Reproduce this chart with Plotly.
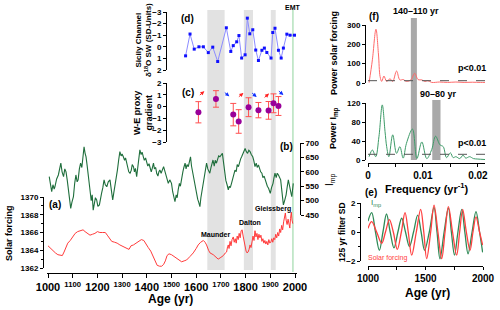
import plotly.graph_objects as go

# ---------------- data ----------------
solar_years = [1000,1010,1020,1030,1040,1050,1058,1065,1072,1080,1090,1100,1110,1120,1130,1142,1150,1160,1170,1180,1190,1200,1210,1220,1232,1240,1250,1258,1270,1280,1291,1300,1310,1320,1328,1336,1346,1356,1366,1378,1388,1396,1406,1416,1427,1435,1442,1452,1460,1468,1475,1482,1490,1500,1510,1521,1531,1541,1551,1561,1575,1588,1600,1608,1618,1629,1636,1642,1650,1656,1669,1680,1689,1700,1710,1718,1723,1727,1730,1733,1737,1741,1745,1750,1754,1758,1762,1766,1770,1774,1778,1782,1786,1790,1794,1798,1802,1806,1810,1814,1818,1822,1826,1830,1834,1838,1842,1846,1850,1854,1858,1862,1866,1870,1874,1878,1882,1886,1890,1894,1898,1902,1906,1910,1914,1918,1922,1926,1930,1934,1938,1942,1946,1950,1954,1958,1961,1964,1968,1972,1976,1979,1982,1985,1988,1991]
solar_vals = [1364.5,1364.2,1363.9,1363.7,1363.5,1363.4,1363.4,1363.8,1364.3,1364.8,1365.1,1365.5,1365.9,1366.1,1366.2,1366.3,1366.1,1365.9,1365.7,1365.8,1365.9,1366.1,1366.0,1366.0,1366.0,1365.7,1365.3,1365.0,1364.9,1364.8,1364.6,1364.5,1364.3,1364.2,1364.1,1364.5,1364.6,1364.8,1365.0,1365.2,1365.1,1364.8,1364.3,1363.9,1363.3,1362.7,1362.3,1362.2,1362.2,1362.4,1362.8,1363.4,1363.6,1363.5,1363.3,1363.1,1362.9,1362.7,1362.8,1362.9,1363.3,1363.7,1364.2,1364.6,1364.9,1365.1,1364.9,1364.6,1364.0,1363.7,1363.5,1363.2,1363.0,1363.2,1363.4,1363.7,1363.8,1364.4,1364.6,1364.2,1365.0,1364.5,1365.2,1365.5,1364.9,1365.3,1364.8,1365.6,1365.2,1365.9,1365.4,1366.2,1366.3,1365.6,1365.0,1364.3,1363.9,1363.7,1363.8,1364.1,1364.6,1364.3,1365.2,1365.6,1365.1,1366.2,1365.5,1365.9,1365.2,1365.8,1365.4,1365.7,1365.0,1365.3,1364.8,1365.1,1364.7,1365.0,1364.6,1365.2,1364.8,1364.9,1365.3,1364.9,1365.4,1365.2,1365.8,1365.4,1366.0,1365.6,1366.4,1366.0,1366.8,1366.3,1367.2,1367.9,1368.2,1367.4,1366.9,1367.5,1366.8,1366.5,1367.6,1368.3,1367.4,1367.0]

imp_years = [1005,1010,1015,1020,1025,1028,1035,1042,1047,1052,1057,1063,1068,1073,1078,1082,1087,1092,1097,1103,1108,1113,1118,1122,1127,1132,1137,1142,1146,1150,1154,1158,1163,1167,1170,1175,1179,1183,1188,1192,1197,1202,1208,1212,1217,1222,1227,1232,1238,1244,1251,1256,1262,1266,1271,1276,1281,1286,1291,1296,1300,1305,1310,1314,1318,1323,1327,1332,1337,1341,1346,1350,1354,1359,1363,1368,1372,1377,1381,1386,1390,1395,1400,1404,1409,1413,1418,1422,1427,1431,1436,1440,1445,1449,1453,1458,1463,1468,1474,1480,1487,1493,1500,1505,1510,1514,1519,1523,1527,1532,1536,1541,1546,1550,1555,1559,1563,1568,1572,1577,1581,1585,1588,1593,1597,1601,1606,1610,1615,1619,1624,1628,1633,1637,1642,1647,1651,1655,1660,1664,1668,1673,1677,1682,1687,1691,1696,1701,1706,1711,1716,1720,1725,1730,1734,1738,1743,1748,1752,1757,1762,1766,1771,1775,1780,1784,1789,1793,1798,1803,1808,1813,1818,1823,1829,1833,1838,1843,1847,1852,1857,1861,1866,1870,1875,1879,1884,1888,1893,1897,1900,1905,1911,1915,1919,1924,1928,1933,1938,1942,1946,1950,1953,1958,1964,1968,1973,1977,1980,1984,1987,1990,1993]
imp_vals = [583,560,531,555,540,548,575,589,610,630,600,583,610,600,570,537,505,473,495,514,560,589,565,572,610,630,615,660,687,665,652,625,595,560,537,500,520,467,490,510,502,480,485,510,526,545,572,555,548,565,572,540,502,525,548,575,606,640,670,655,662,652,640,648,630,615,600,595,605,625,618,600,612,583,620,650,676,660,668,652,640,648,635,620,628,618,600,612,630,610,615,595,585,600,606,595,610,618,600,585,560,572,560,530,515,496,520,510,537,560,550,583,600,615,630,610,625,618,640,652,620,600,583,560,545,525,505,495,479,510,535,560,590,610,630,610,600,595,615,630,641,620,640,630,645,655,652,660,664,630,595,570,555,537,550,545,560,580,590,606,600,625,618,635,645,652,665,675,681,670,664,675,670,660,652,640,618,630,615,624,610,600,595,580,585,572,560,550,543,530,525,545,560,580,595,580,595,589,580,572,540,505,485,500,520,545,572,555,537,525,514,535,560]

grad_years = [1609,1680,1750,1772,1812,1852,1893,1913,1933]
grad_vals = [-0.48,0.65,-0.68,-1.26,-0.05,-0.3,-0.32,0.28,0.05]
grad_err = [0.9,0.7,0.95,1.0,0.8,0.65,0.75,0.8,0.8]

d18o_years = [1557,1575,1592,1611,1629,1649,1667,1687,1722,1740,1750,1764,1773,1784,1798,1807,1817,1829,1841,1852,1866,1876,1886,1903,1910,1919,1933,1944,1953,1967,1980,1998]
d18o_vals = [0.78,-1.1,0.2,0.0,0.0,0.5,0.03,1.27,-1.64,0.4,-0.1,-0.43,-0.97,0.97,0.69,-2.47,-1.12,-1.47,0.28,1.18,0.3,0.11,0.49,0.97,-1.23,-1.6,0.3,0.97,0.11,-1.09,-1.0,-1.0]

freq_solar = [0.0002,0.0008,0.00145,0.0019,0.0022,0.0025,0.0029,0.0034,0.004,0.0045,0.0052,0.0058,0.0064,0.007,0.0078,0.0085,0.0091,0.0098,0.0104,0.0109,0.0116,0.013,0.0145,0.016,0.0175,0.019,0.0205,0.0213]
pow_solar = [2,120,278,150,33,8,36,8,22,8,62,16,18,8,16,50,18,16,8,12,3,5,3,5,3,4,3,3]

freq_imp = [0.0002,0.0008,0.0014,0.002,0.0026,0.0031,0.0034,0.0038,0.0045,0.0052,0.0058,0.0064,0.007,0.0081,0.0089,0.0098,0.0107,0.0116,0.0123,0.0131,0.0137,0.0143,0.015,0.0155,0.016,0.0167,0.0173,0.0178,0.0185,0.0192,0.02,0.0213]
pow_imp = [7,21,7,50,116,60,28,7,53,14,28,4,35,65,3,38,3,22,50,32,28,5,15,5,7,3,10,4,7,3,2,1]

filt_years_red = [1000,1032,1075,1119,1152,1186,1220,1255,1290,1322,1350,1380,1420,1458,1485,1510,1545,1574,1608,1641,1670,1699,1735,1771,1797,1823,1855,1887,1913,1939,1970,1997]
filt_red = [0.25,0.71,0.0,-0.78,0.0,0.85,0.0,-1.2,0.0,1.33,0.0,-1.6,0.0,1.56,0.0,-1.84,0.0,1.86,0.0,-1.84,0.0,1.75,0.0,-1.6,0.0,1.56,0.0,-1.26,0.0,1.05,0.0,-0.9]
filt_years_grn = [1000,1032,1065,1099,1130,1161,1193,1226,1260,1293,1326,1360,1396,1432,1462,1492,1533,1574,1600,1626,1662,1699,1725,1752,1782,1815,1842,1870,1905,1939,1970,1997]
filt_grn = [0.75,1.33,0.0,-1.26,0.0,1.24,0.0,-1.1,0.0,0.95,0.0,-1.0,0.0,1.17,0.0,-1.26,0.0,1.7,0.0,-1.85,0.0,1.65,0.0,-1.6,0.0,1.56,0.0,-1.5,0.0,1.4,0.0,-1.4]

main_ticks = list(range(1000, 2001, 100))
main_ticktext = [str(t) if t % 200 == 0 else "<sup>%d</sup>" % t for t in main_ticks]

# ---------------- helpers ----------------
W, H = 500, 310
def PX(px): return px / W
def PY(py): return 1 - py / H
def yr_at(px): return 1000 + (px - 48) / 0.247

FONT = "Liberation Sans, Arial, sans-serif"
def F(size, color="black", bold=True):
    return dict(family=FONT, size=size, color=color, weight="bold" if bold else "normal")

RED = "#ff3b3b"
GRN = "#1f6e3c"

fig = go.Figure()

fig.add_trace(go.Scatter(x=solar_years, y=solar_vals, xaxis="x", yaxis="y", mode="lines",
                         line=dict(color=RED, width=1), showlegend=False))
fig.add_trace(go.Scatter(x=imp_years, y=imp_vals, xaxis="x", yaxis="y2", mode="lines",
                         line=dict(color=GRN, width=1.1), showlegend=False))
fig.add_trace(go.Scatter(x=grad_years, y=grad_vals, xaxis="x2", yaxis="y3", mode="markers",
                         marker=dict(color="#990099", size=6),
                         error_y=dict(type="data", array=grad_err, color="#ff5050", thickness=1, width=3),
                         showlegend=False))
fig.add_trace(go.Scatter(x=d18o_years, y=d18o_vals, xaxis="x2", yaxis="y4", mode="lines+markers",
                         line=dict(color="#8c8cff", width=1), marker=dict(color="#1010ff", size=3, symbol="square"),
                         showlegend=False))
fig.add_trace(go.Scatter(x=freq_solar, y=pow_solar, xaxis="x3", yaxis="y5", mode="lines",
                         line=dict(color="#ff6a6a", width=1, shape="spline"), showlegend=False))
fig.add_trace(go.Scatter(x=freq_imp, y=pow_imp, xaxis="x4", yaxis="y6", mode="lines",
                         line=dict(color="#3d9b68", width=1, shape="spline"), showlegend=False))
fig.add_trace(go.Scatter(x=filt_years_grn, y=filt_grn, xaxis="x5", yaxis="y7", mode="lines",
                         line=dict(color="#2f8a57", width=1.3, shape="spline"), showlegend=False))
fig.add_trace(go.Scatter(x=filt_years_red, y=filt_red, xaxis="x5", yaxis="y7", mode="lines",
                         line=dict(color="#ff4040", width=1.3, shape="spline"), showlegend=False))

axbase = dict(showgrid=False, zeroline=False, showline=True, linecolor="black", linewidth=1,
              ticks="outside", ticklen=3, tickcolor="black", automargin=False)

fig.update_layout(
    width=W, height=H, margin=dict(l=0, r=0, t=0, b=0),
    paper_bgcolor="white", plot_bgcolor="rgba(0,0,0,0)",
    xaxis=dict(axbase, domain=[PX(47), PX(297)], range=[yr_at(47), yr_at(297)], anchor="free",
               position=PY(273), tickvals=main_ticks, ticktext=main_ticktext, tickfont=F(11), ticklen=4),
    yaxis=dict(axbase, domain=[PY(268), PY(197)], range=[1362, 1370], anchor="free", position=PX(43),
               tickvals=[1362, 1364, 1366, 1368, 1370], tickfont=F(8),
               minor=dict(dtick=1, ticks="outside", ticklen=2, tickcolor="black")),
    yaxis2=dict(axbase, domain=[PY(215), PY(143)], range=[450, 700], anchor="free", position=PX(300),
                side="right", tickvals=[450, 500, 550, 600, 650, 700], tickfont=F(8)),
    xaxis2=dict(domain=[PX(167), PX(297)], range=[yr_at(167), yr_at(297)], visible=False, anchor="y3"),
    yaxis3=dict(axbase, domain=[PY(142), PY(83)], range=[-3, 2], anchor="x2",
                tickvals=[-3, -2, -1, 0, 1, 2], tickfont=F(8)),
    yaxis4=dict(axbase, domain=[PY(70), PY(12)], range=[2, -3], anchor="x2",
                tickvals=[-3, -2, -1, 0, 1, 2], tickfont=F(8)),
    xaxis3=dict(domain=[PX(368), PX(485)], range=[0, 0.0213], visible=False, anchor="y5"),
    yaxis5=dict(axbase, domain=[PY(83), PY(25)], range=[0, 300], anchor="free", position=PX(365),
                tickvals=[0, 100, 200, 300], tickfont=F(8)),
    xaxis4=dict(axbase, domain=[PX(368), PX(485)], range=[0, 0.0213], anchor="free", position=PY(163),
                tickvals=[0, 0.01, 0.02], ticktext=["0", "0.01", "0.02"], tickfont=F(10),
                minor=dict(dtick=0.005, ticks="outside", ticklen=3, tickcolor="black")),
    yaxis6=dict(axbase, domain=[PY(160), PY(103)], range=[0, 120], anchor="free", position=PX(365),
                tickvals=[0, 40, 80, 120], tickfont=F(8)),
    xaxis5=dict(axbase, domain=[PX(368), PX(483)], range=[1000, 2000], anchor="free", position=PY(266),
                tickvals=[1000, 1500, 2000], tickfont=F(10),
                minor=dict(dtick=250, ticks="outside", ticklen=3, tickcolor="black")),
    yaxis7=dict(axbase, domain=[PY(261), PY(203)], range=[-2, 2], anchor="free", position=PX(360),
                tickvals=[-2, 0, 2], tickfont=F(8),
                minor=dict(dtick=1, ticks="outside", ticklen=2, tickcolor="black")),
)

for x0, x1 in [(1645, 1715), (1793, 1830), (1902, 1922)]:
    fig.add_shape(type="rect", xref="x", yref="paper", x0=x0, x1=x1, y0=PY(270), y1=PY(10),
                  fillcolor="#e2e2e2", line_width=0, layer="below")
fig.add_shape(type="rect", xref="x", yref="paper", x0=1988, x1=1995, y0=PY(272), y1=PY(10),
              fillcolor="#bfe6c6", line_width=0, layer="below")
fig.add_shape(type="rect", xref="x4", yref="paper", x0=0.0078, x1=0.0089, y0=PY(160), y1=PY(18),
              fillcolor="#a9a9a9", line_width=0, layer="below")
fig.add_shape(type="rect", xref="x4", yref="paper", x0=0.0117, x1=0.0132, y0=PY(160), y1=PY(100),
              fillcolor="#a9a9a9", line_width=0, layer="below")
fig.add_shape(type="line", xref="x3", yref="y5", x0=0, x1=0.0213, y0=12, y1=12,
              line=dict(color="#555", width=1, dash="dash"))
fig.add_shape(type="line", xref="x4", yref="y6", x0=0, x1=0.0213, y0=12, y1=12,
              line=dict(color="#555", width=1, dash="dash"))

def ann(x, y, text, size=9, color="black", angle=0, bold=True, xanchor="center"):
    fig.add_annotation(x=PX(x), y=PY(y), xref="paper", yref="paper", text=text, showarrow=False,
                       font=F(size, color, bold), textangle=angle, xanchor=xanchor, yanchor="middle")

ann(55, 204, "(a)", 10)
ann(286, 147, "(b)", 10)
ann(188, 92, "(c)", 10)
ann(187, 18, "(d)", 10)
ann(374, 17, "(f)", 10)
ann(371, 192, "(e)", 10)
ann(293, 7, "EMT", 7)
ann(215, 234, "Maunder", 7)
ann(250, 222, "Dalton", 7)
ann(273, 209, "Gleissberg", 7)
ann(170, 299, "Age (yr)", 12)
ann(427, 293, "Age (yr)", 12)
ann(427, 188, "Frequency (yr<sup>-1</sup>)", 11)
ann(9, 233, "Solar forcing", 9, angle=-90)
ann(330, 180, "I<sub>mp</sub>", 10, angle=-90, bold=False)
ann(143, 113, "W-E proxy<br>gradient", 9, angle=-90)
ann(143, 40, "Sicily Channel<br>δ<sup>18</sup>O SW (SD-Units)", 8, angle=-90)
ann(334, 53, "Power solar forcing", 9, angle=-90)
ann(334, 128, "Power I<sub>mp</sub>", 9, angle=-90)
ann(342, 232, "125 yr filter SD", 8.5, angle=-90)
ann(416, 11, "140–110 yr", 9)
ann(438, 94, "90–80 yr", 9)
ann(472, 68, "p<0.01", 9)
ann(472, 143, "p<0.01", 9)
ann(369, 203, "I<sub>mp</sub>", 8, color="#2f8a57", bold=False, xanchor="left")
ann(366, 258, "Solar forcing", 7, color="#ff4040", bold=False, xanchor="left")

arrows = [(1633, 1.3, "red", -6, 5), (1734, 0.87, "blue", -6, -5), (1791, 1.16, "red", -6, 5),
          (1845, 0.82, "blue", -6, -5), (1895, 1.1, "red", -6, 5), (1953, 0.99, "blue", -6, -5)]
for xv, yv, c, axo, ayo in arrows:
    col = "#ff2020" if c == "red" else "#1030ff"
    fig.add_annotation(x=xv, y=yv, xref="x2", yref="y3", ax=axo, ay=ayo, text="", showarrow=True,
                       arrowhead=2, arrowsize=0.8, arrowwidth=1, arrowcolor=col)

fig.write_html("out.html", config={"displayModeBar": False},
               post_script="document.body.style.margin='0';")
